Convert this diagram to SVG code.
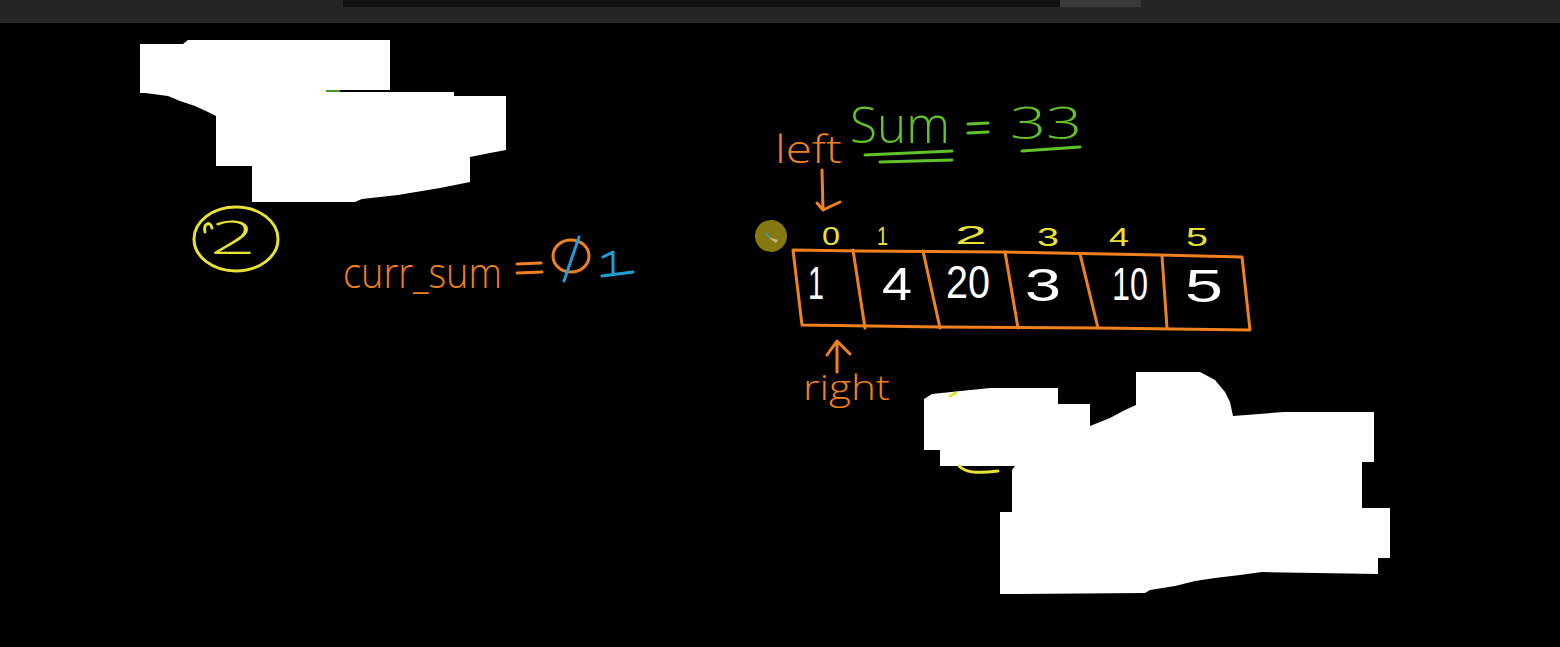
<svg xmlns="http://www.w3.org/2000/svg" width="1560" height="647" viewBox="0 0 1560 647">
<style>
.ink{fill:none;stroke-linecap:round;stroke-linejoin:round;stroke-width:3}
.o{stroke:#f0811e}.g{stroke:#62c22a}.y{stroke:#e8e235}.b{stroke:#1e9ed6}
.t{font-family:"Open Sans","DejaVu Sans",sans-serif;font-weight:300}
.n{font-family:"Liberation Sans","DejaVu Sans",sans-serif;font-weight:400}
.erase{fill:#ffffff}
</style>
<rect x="0" y="0" width="1560" height="647" fill="#000"/>
<g id="topbar">
<rect x="0" y="0" width="1560" height="23" fill="#252525"/>
<rect x="343" y="0" width="717" height="7" fill="#111"/>
<rect x="1060" y="0" width="81" height="7" fill="#393939"/>
</g>
<g id="erased-top-left">
<path class="erase" d="M140,44 L183,44 L188,40 L390,40 L390,90 L327,90 L327,92 L454,92 L454,96 L506,96 L506,150 L490,153 L470,157 L470,182 L440,188 L398,195 L362,199 L355,202 L252,202 L252,166 L216,166 L216,116 L208,112 L195,106 L180,101 L168,96 L145,93 L140,93 Z"/>
<path d="M326,91 L340,91" stroke="#4a9a20" stroke-width="2"/>
</g>
<g id="circled-two">
<ellipse class="ink y" cx="236" cy="239" rx="42" ry="32" stroke-width="2.5"/>
<path class="ink y" d="M205,232 C203,224 210,220 212,228" stroke-width="2"/>
<text class="t" x="210" y="254" font-size="46" fill="#e8e235" textLength="46" lengthAdjust="spacingAndGlyphs">2</text>
</g>
<g id="curr-sum">
<text class="t" x="343" y="288" font-size="42" fill="#f0811e" textLength="159" lengthAdjust="spacingAndGlyphs">curr_sum</text>
<path class="ink o" d="M517,264 L541,263 M517,273 L542,272"/>
<ellipse class="ink o" cx="571" cy="256" rx="18" ry="16"/>
<path class="ink b" d="M564,281 L579,237"/>
<path class="ink b" d="M603,257 L613,252 L613,274 M602,276 L633,272"/>
</g>
<g id="sum-label">
<text class="t" x="850" y="143" font-size="50" fill="#62c22a" textLength="100" lengthAdjust="spacingAndGlyphs">Sum</text>
<path class="ink g" d="M968,124 L988,123 M968,133 L988,132"/>
<text class="t" x="1010" y="139" font-size="44" fill="#62c22a" textLength="72" lengthAdjust="spacingAndGlyphs">33</text>
<path class="ink g" d="M865,155 L952,151 M880,162 L952,160 M1022,151 L1080,147"/>
</g>
<g id="left-pointer">
<text class="t" x="775" y="163" font-size="38" fill="#f0811e" textLength="67" lengthAdjust="spacingAndGlyphs">left</text>
<path class="ink o" d="M822,170 L823,210 M817,203 L823,210 L840,202" stroke-width="2.5"/>
</g>
<g id="cursor">
<circle cx="771" cy="236" r="16" fill="#857a12"/>
<path d="M768,237 L776,243 L778,240 Z" fill="#c9b98a"/>
<path d="M766,233 L769,237" stroke="#2aa3c8" stroke-width="2"/>
</g>
<g id="indices" class="n" font-size="25" fill="#e8e235">
<text x="822" y="245" textLength="18" lengthAdjust="spacingAndGlyphs">0</text>
<text x="877" y="245" textLength="11" lengthAdjust="spacingAndGlyphs">1</text>
<text x="955" y="244" textLength="32" lengthAdjust="spacingAndGlyphs">2</text>
<text x="1037" y="246" textLength="22" lengthAdjust="spacingAndGlyphs">3</text>
<text x="1109" y="246" textLength="20" lengthAdjust="spacingAndGlyphs">4</text>
<text x="1186" y="246" textLength="22" lengthAdjust="spacingAndGlyphs">5</text>
</g>
<g id="array">
<path class="ink o" d="M793,250 L860,251 L1000,252 L1160,255 L1242,257 L1250,330 L1100,328 L940,327 L802,325 Z"/>
<path class="ink o" d="M853,250 L865,328 M923,251 L940,328 M1005,252 L1018,328 M1080,254 L1098,328 M1162,256 L1167,328"/>
</g>
<g id="values" class="n" font-size="46" fill="#ffffff">
<text x="808" y="299" textLength="16" lengthAdjust="spacingAndGlyphs">1</text>
<text x="882" y="300" textLength="30" lengthAdjust="spacingAndGlyphs">4</text>
<text x="946" y="298" textLength="44" lengthAdjust="spacingAndGlyphs">20</text>
<text x="1025" y="301" textLength="36" lengthAdjust="spacingAndGlyphs">3</text>
<text x="1112" y="300" textLength="36" lengthAdjust="spacingAndGlyphs">10</text>
<text x="1185" y="302" textLength="38" lengthAdjust="spacingAndGlyphs">5</text>
</g>
<g id="right-pointer">
<path class="ink o" d="M837,343 L837,372 M827,355 L837,341 L850,354" stroke-width="2.5"/>
<text class="t" x="803" y="400" font-size="34" fill="#f0811e" textLength="87" lengthAdjust="spacingAndGlyphs">right</text>
</g>
<g id="erased-bottom-right">
<path class="erase" d="M924,399 L932,394 L990,388 L1058,388 L1058,404 L1090,404 L1090,426 L1110,418 L1125,410 L1136,405 L1136,372 L1200,372 L1215,380 L1225,392 L1230,402 L1233,416 L1284,412 L1374,412 L1374,462 L1362,462 L1362,508 L1390,508 L1390,558 L1378,558 L1378,574 L1262,572 L1240,575 L1215,578 L1195,581 L1175,586 L1150,590 L1145,593 L1000,594 L1000,512 L1012,512 L1012,470 L1015,466 L940,466 L940,450 L924,450 Z"/>
<path class="ink y" d="M959,466 C965,472 975,474 998,471" stroke-width="2"/>
<path class="ink y" d="M950,396 L956,393" stroke-width="2"/>
</g>
</svg>
